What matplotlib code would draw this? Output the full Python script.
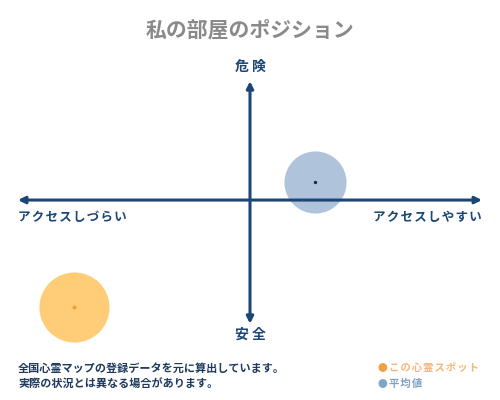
import matplotlib
matplotlib.use("Agg")
import matplotlib.pyplot as plt

plt.rcParams['font.family'] = ['Noto Sans CJK JP', 'DejaVu Sans']

title = "私の部屋のポジション"
label_top = "危 険"
label_bottom = "安 全"
label_left = "アクセスしづらい"
label_right = "アクセスしやすい"
note_lines = ["全国心霊マップの登録データを元に算出しています。",
              "実際の状況とは異なる場合があります。"]
legend_labels = ["この心霊スポット", "平均値"]

# positions on a -100..100 scale (x: access, y: danger)
spot_xy = (-76, -87)
avg_xy = (28, 15)
spot_size = 2550
avg_size = 2000

HS = '\u200a'


def spaced(s):
    return HS.join(s)


fig = plt.figure(figsize=(5, 4), dpi=100)
ax = fig.add_axes([18/500, 75/400, 464/500, 245/400])
ax.set_xlim(-100, 100)
ax.set_ylim(-102, 98)
ax.axis('off')

navy = '#1b4675'
ax.annotate('', xy=(100, 0), xytext=(-100, 0),
            arrowprops=dict(arrowstyle='<|-|>', color=navy, lw=2.2,
                            mutation_scale=10, shrinkA=0, shrinkB=0))
ax.annotate('', xy=(0, 97), xytext=(0, -101),
            arrowprops=dict(arrowstyle='<|-|>', color=navy, lw=2.2,
                            mutation_scale=10, shrinkA=0, shrinkB=0))

ax.scatter([avg_xy[0]], [avg_xy[1]], s=avg_size, color='#afc3da', zorder=1,
           linewidths=0, clip_on=False)
ax.scatter([avg_xy[0]], [avg_xy[1]], s=2, color='#1a2a3a', zorder=3, clip_on=False)
ax.scatter([spot_xy[0]], [spot_xy[1]], s=spot_size, color='#ffcc77', zorder=1,
           linewidths=0, clip_on=False)
ax.scatter([spot_xy[0]], [spot_xy[1]], s=6, color='#eda020', marker='D', zorder=3,
           linewidths=0, clip_on=False)

fig.text(0.5, 1 - 30/400, title, ha='center', va='center', fontsize=15,
         color='#8a8a8a', fontweight='bold')
fig.text(0.5, 1 - 67/400, label_top, ha='center', va='center', fontsize=10,
         color=navy, fontweight='bold')
fig.text(0.5, 1 - 335/400, label_bottom, ha='center', va='center', fontsize=10,
         color=navy, fontweight='bold')
fig.text(18/500, 1 - 217/400, spaced(label_left), ha='left', va='center', fontsize=9,
         color=navy, fontweight='bold')
fig.text(482/500, 1 - 217/400, spaced(label_right), ha='right', va='center', fontsize=9,
         color=navy, fontweight='bold')

for i, line in enumerate(note_lines):
    fig.text(18/500, 1 - (368 + 16*i)/400, line, ha='left', va='center', fontsize=8,
             color='#1f3a5c', fontweight='bold')

leg_colors = ['#f0a040', '#7fa5c8']
leg_text_colors = ['#f3b77a', '#7fa0c0']
for i, (lab, c, tc) in enumerate(zip(legend_labels, leg_colors, leg_text_colors)):
    y = 1 - (368 + 16*i)/400
    fig.text(378/500, y, '●', ha='left', va='center', fontsize=7, color=c)
    fig.text(389/500, y, spaced(lab), ha='left', va='center', fontsize=7.5, color=tc,
             fontweight='bold')

fig.savefig('out.png', dpi=100, facecolor='white')
